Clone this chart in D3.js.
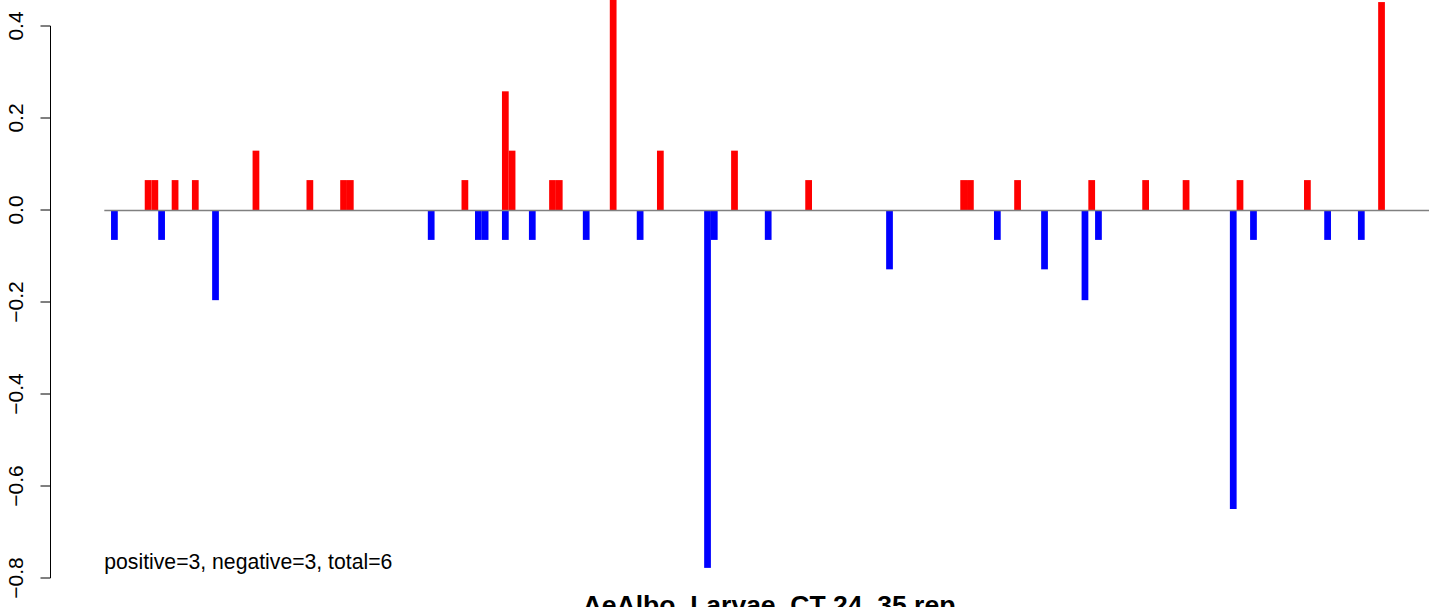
<!DOCTYPE html>
<html>
<head>
<meta charset="utf-8">
<script src="https://cdn.jsdelivr.net/npm/d3@7"></script>
<style>
html,body{margin:0;padding:0;background:#fff;}
svg{display:block;}
text{font-family:"Liberation Sans",Arial,Helvetica,sans-serif;}
</style>
</head>
<body>
<svg id="chart" width="1429" height="607"></svg>
<script>
// ---- data ----
const posIndex = [6,7,10,13,22,30,35,36,53,59,60,66,67,75,82,93,104,127,128,135,146,154,160,168,178,189];
const posValues = [0.065,0.065,0.065,0.065,0.129,0.065,0.065,0.065,0.065,0.258,0.129,0.065,0.065,0.52,0.129,0.129,0.065,0.065,0.065,0.065,0.065,0.065,0.065,0.065,0.065,0.452];
const negIndex = [1,8,16,48,55,56,59,63,71,79,89,90,98,116,132,139,145,147,167,170,181,186];
const negValues = [-0.065,-0.065,-0.196,-0.065,-0.065,-0.065,-0.065,-0.065,-0.065,-0.065,-0.778,-0.065,-0.065,-0.129,-0.065,-0.129,-0.196,-0.065,-0.65,-0.065,-0.065,-0.065];
const yTicks = [-0.8,-0.6,-0.4,-0.2,0.0,0.2,0.4];
const titleText = "AeAlbo_Larvae_CT 24_35 rep";
const noteText = "positive=3, negative=3, total=6";

// ---- layout ----
const svg = d3.select("#chart");
const slot = 6.74, x0 = 104.3;
const x = d3.scaleLinear().domain([0, 200]).range([x0, x0 + 200 * slot]);
const y = d3.scaleLinear().domain([-0.8, 0.4]).range([578, 26]);

const pos = posIndex.map((t, i) => ({t, v: posValues[i]}));
const neg = negIndex.map((t, i) => ({t, v: negValues[i]}));

svg.append("g").selectAll("rect").data(pos).join("rect")
  .attr("x", d => x(d.t)).attr("width", d => x(d.t + 1) - x(d.t))
  .attr("y", d => y(d.v)).attr("height", d => y(0) - y(d.v))
  .attr("fill", "#FF0000");

svg.append("g").selectAll("rect").data(neg).join("rect")
  .attr("x", d => x(d.t)).attr("width", d => x(d.t + 1) - x(d.t))
  .attr("y", y(0)).attr("height", d => y(d.v) - y(0))
  .attr("fill", "#0000FF");

// zero line
svg.append("line")
  .attr("x1", x(0)).attr("x2", 1429)
  .attr("y1", y(0) + 0.5).attr("y2", y(0) + 0.5)
  .attr("stroke", "#808080").attr("stroke-width", 1.4);

// y axis
const axis = d3.axisLeft(y).tickValues(yTicks).tickSize(10).tickPadding(0)
  .tickFormat(d => d3.format(".1f")(d).replace("-", "\u2212"));
const gAxis = svg.append("g").attr("transform", "translate(50.5,0)").call(axis);
gAxis.select(".domain").attr("d", `M0,${y(0.4)}V${y(-0.8)}`).attr("stroke", "#000");
gAxis.selectAll(".tick line").attr("stroke", "#000");
gAxis.selectAll(".tick text")
  .attr("x", 0).attr("y", 0).attr("dy", null)
  .attr("text-anchor", "middle")
  .attr("font-size", 21)
  .attr("fill", "#000")
  .each(function(d){
    d3.select(this).attr("transform", `translate(-27.5,${y(d)}) rotate(-90)`);
  });
gAxis.selectAll(".tick").attr("transform", null);
gAxis.selectAll(".tick line").attr("transform", d => `translate(0,${y(d)})`);

// note text
svg.append("text").attr("x", x(0)).attr("y", 569)
  .attr("font-size", 21.2).attr("fill", "#000").text(noteText);

// title
svg.append("text").attr("x", 769).attr("y", 614)
  .attr("text-anchor", "middle").attr("font-size", 26.5).attr("font-weight", "bold")
  .attr("fill", "#000").text(titleText);
</script>
</body>
</html>
